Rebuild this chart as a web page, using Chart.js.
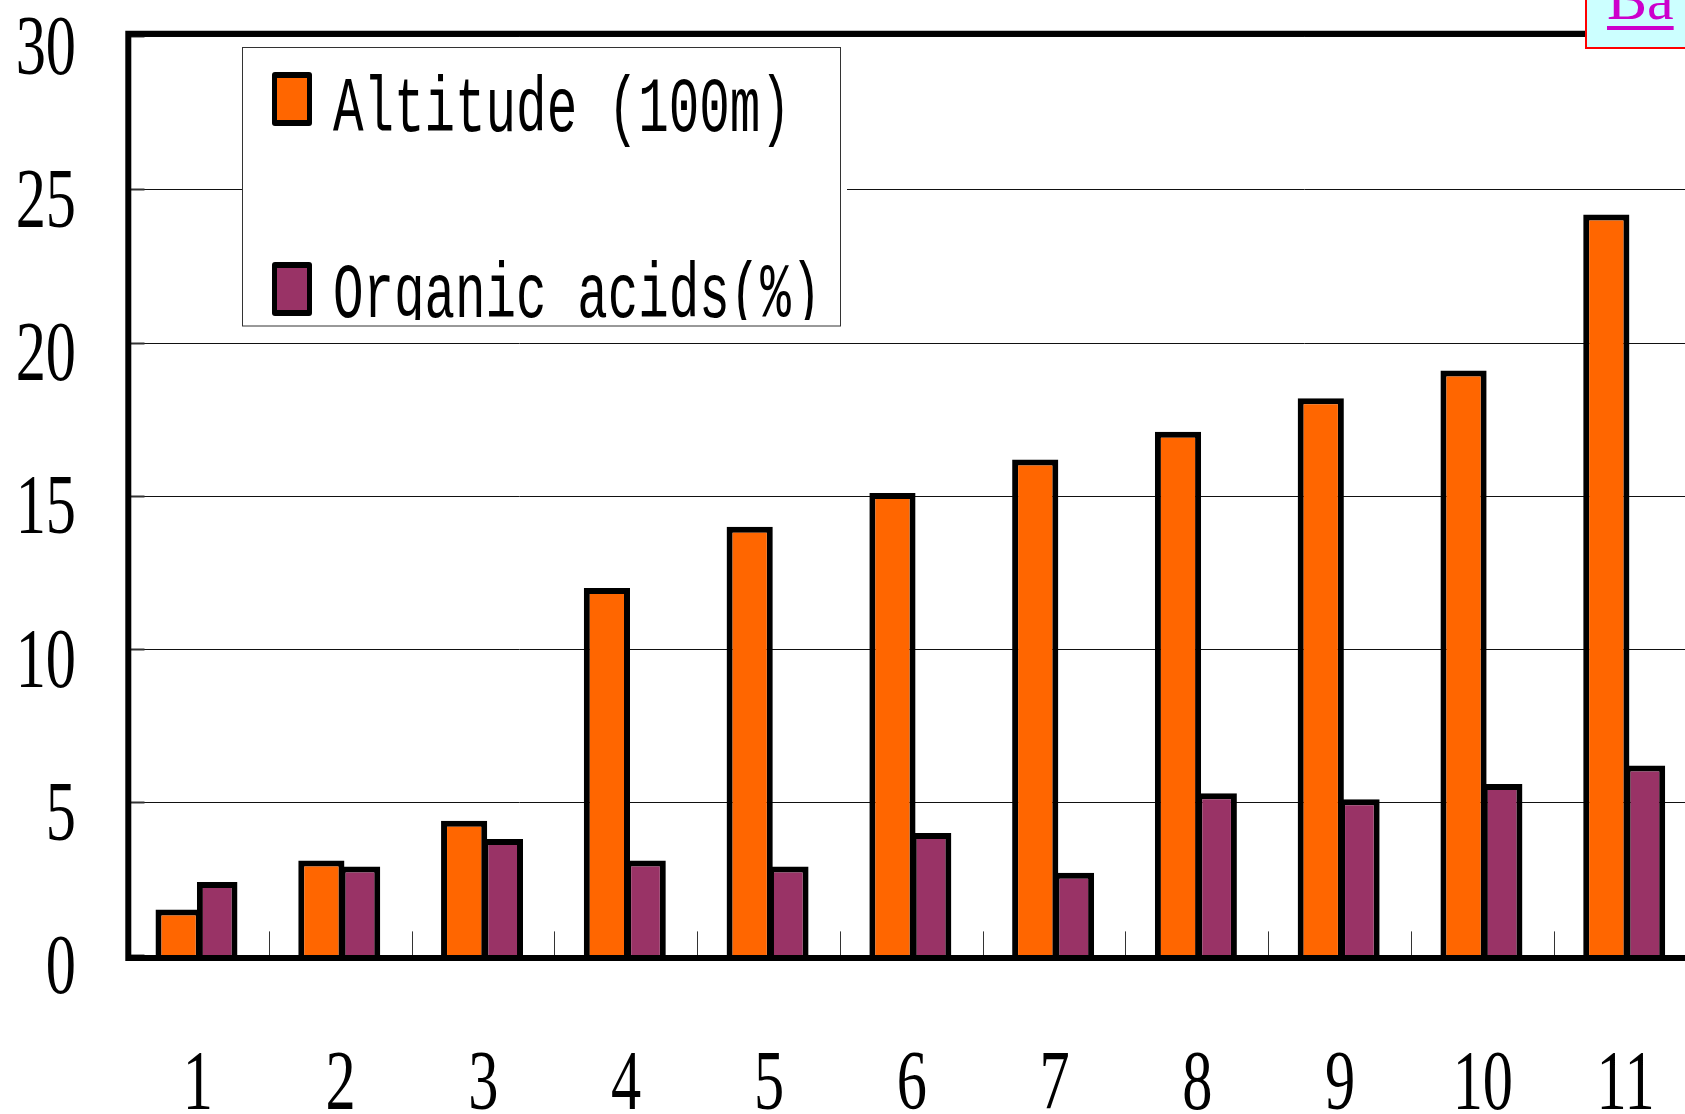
<!DOCTYPE html>
<html>
<head>
<meta charset="utf-8">
<script src="https://cdn.jsdelivr.net/npm/chart.js@4.4.1/dist/chart.umd.min.js"></script>
<style>
html,body{margin:0;padding:0;overflow:hidden;background:#fff;width:1685px;height:1114px;}
#wrap{position:absolute;left:0;top:0;width:1697px;height:1114px;}
#c{display:block;}
#nav{position:absolute;left:1585px;top:-31px;width:200px;height:80px;box-sizing:border-box;border:2px solid #ff0000;background:#ccffff;}
#nav span{position:absolute;left:20px;top:-2px;font:60px/60px "Liberation Serif",serif;color:#cc00cc;text-decoration:underline;text-decoration-thickness:4px;text-underline-offset:7px;white-space:nowrap;}
</style>
</head>
<body>
<div id="wrap"><canvas id="c" width="1697" height="1114"></canvas></div>
<div id="nav"><span>Ba</span></div>
<script>
// ---- data ----
const categories = ['1','2','3','4','5','6','7','8','9','10','11'];
const altitude = [1.5, 3.1, 4.4, 12.0, 14.0, 15.1, 16.2, 17.1, 18.2, 19.1, 24.2];
const organicAcids = [2.4, 2.9, 3.8, 3.1, 2.9, 4.0, 2.7, 5.3, 5.1, 5.6, 6.2];
const seriesNames = ['Altitude (100m)', 'Organic acids(%)'];
const seriesColors = ['#FF6600', '#993366'];
const yMin = 0, yMax = 30, yStep = 5;

// ---- styling helpers ----
const TICK_SX = 0.71;      // horizontal condensing of tick label glyphs
const LEGEND_SX = 0.652;   // horizontal condensing of legend glyphs
const TICK_FONT = {family: '"Liberation Serif", serif', size: 85, lineHeight: 1.2};
const origFillText = CanvasRenderingContext2D.prototype.fillText;

const condensePlugin = {
  id: 'condense',
  beforeDraw(chart) {
    chart.ctx.fillText = function (t, x, y) {
      this.save();
      this.translate(x, y);
      this.scale(TICK_SX, 1);
      origFillText.call(this, t, 0, 0);
      this.restore();
    };
  },
  afterDraw(chart) { delete chart.ctx.fillText; }
};

const framePlugin = {
  id: 'frame',
  afterDatasetsDraw(chart) {
    const {ctx, chartArea: {left, right, top, bottom}} = chart;
    ctx.save();
    ctx.strokeStyle = '#000';
    ctx.lineWidth = 6;
    ctx.lineJoin = 'miter';
    ctx.beginPath();
    ctx.moveTo(chart.width, top - 3.2);
    ctx.lineTo(left + 1.8, top - 3.2);
    ctx.lineTo(left + 1.8, bottom + 2.6);
    ctx.lineTo(chart.width, bottom + 2.6);
    ctx.stroke();
    ctx.restore();
  }
};

const legendPlugin = {
  id: 'boxLegend',
  afterDraw(chart) {
    const ctx = chart.ctx;
    const ds = chart.data.datasets;
    ctx.save();
    ctx.fillStyle = '#fff';
    ctx.fillRect(242, 47, 605, 279);
    ctx.strokeStyle = '#333';
    ctx.lineWidth = 1;
    ctx.strokeRect(242.5, 47.5, 598, 278.5);
    const rows = [{sy: 72, base: 131}, {sy: 262, base: 317}];
    rows.forEach((r, i) => {
      ctx.fillStyle = '#000';
      ctx.beginPath();
      ctx.roundRect(272, r.sy, 40, 54, 3);
      ctx.fill();
      ctx.fillStyle = ds[i].backgroundColor;
      ctx.fillRect(277, r.sy + 6, 30, 42);
      ctx.save();
      ctx.beginPath();
      ctx.rect(243, 48, 597, 320 - 48);
      ctx.clip();
      ctx.fillStyle = '#000';
      ctx.font = '78px "Liberation Mono", monospace';
      ctx.textBaseline = 'alphabetic';
      ctx.textAlign = 'left';
      ctx.translate(333, r.base);
      ctx.scale(LEGEND_SX, 1);
      origFillText.call(ctx, ds[i].label, 0, 0);
      ctx.restore();
    });
    ctx.restore();
  }
};

const barCommon = {borderColor: '#000', borderWidth: 6, borderSkipped: 'start', categoryPercentage: 0.5406};

new Chart(document.getElementById('c').getContext('2d'), {
  type: 'bar',
  data: {
    labels: categories,
    datasets: [
      Object.assign({label: seriesNames[0], data: altitude, backgroundColor: seriesColors[0], barPercentage: 1.197}, barCommon),
      Object.assign({label: seriesNames[1], data: organicAcids, backgroundColor: seriesColors[1], barPercentage: 1.052}, barCommon)
    ]
  },
  options: {
    responsive: false,
    animation: false,
    devicePixelRatio: 1,
    layout: {padding: {top: 36.9, left: 0, right: 0, bottom: 0}},
    plugins: {legend: {display: false}, tooltip: {enabled: false}},
    scales: {
      x: {
        offset: true,
        grid: {display: true, offset: true, drawOnChartArea: false, drawTicks: true, tickLength: -24, tickColor: '#333', tickWidth: 1},
        border: {display: false},
        ticks: {font: TICK_FONT, color: '#000', padding: 104.5, maxRotation: 0, autoSkip: false},
        afterFit(s) { s.height = 158.6; s.paddingLeft = 0; s.paddingRight = 0; }
      },
      y: {
        min: yMin, max: yMax,
        ticks: {stepSize: yStep, font: TICK_FONT, color: '#000', padding: 68.5, labelOffset: 15},
        grid: {color: '#111', lineWidth: 1, drawTicks: true, tickLength: -18, tickColor: '#333', tickWidth: 2},
        border: {display: false},
        afterFit(s) { s.width = 126.5; s.paddingTop = 0; s.paddingBottom = 0; }
      }
    }
  },
  plugins: [condensePlugin, framePlugin, legendPlugin]
});
</script>
</body>
</html>
